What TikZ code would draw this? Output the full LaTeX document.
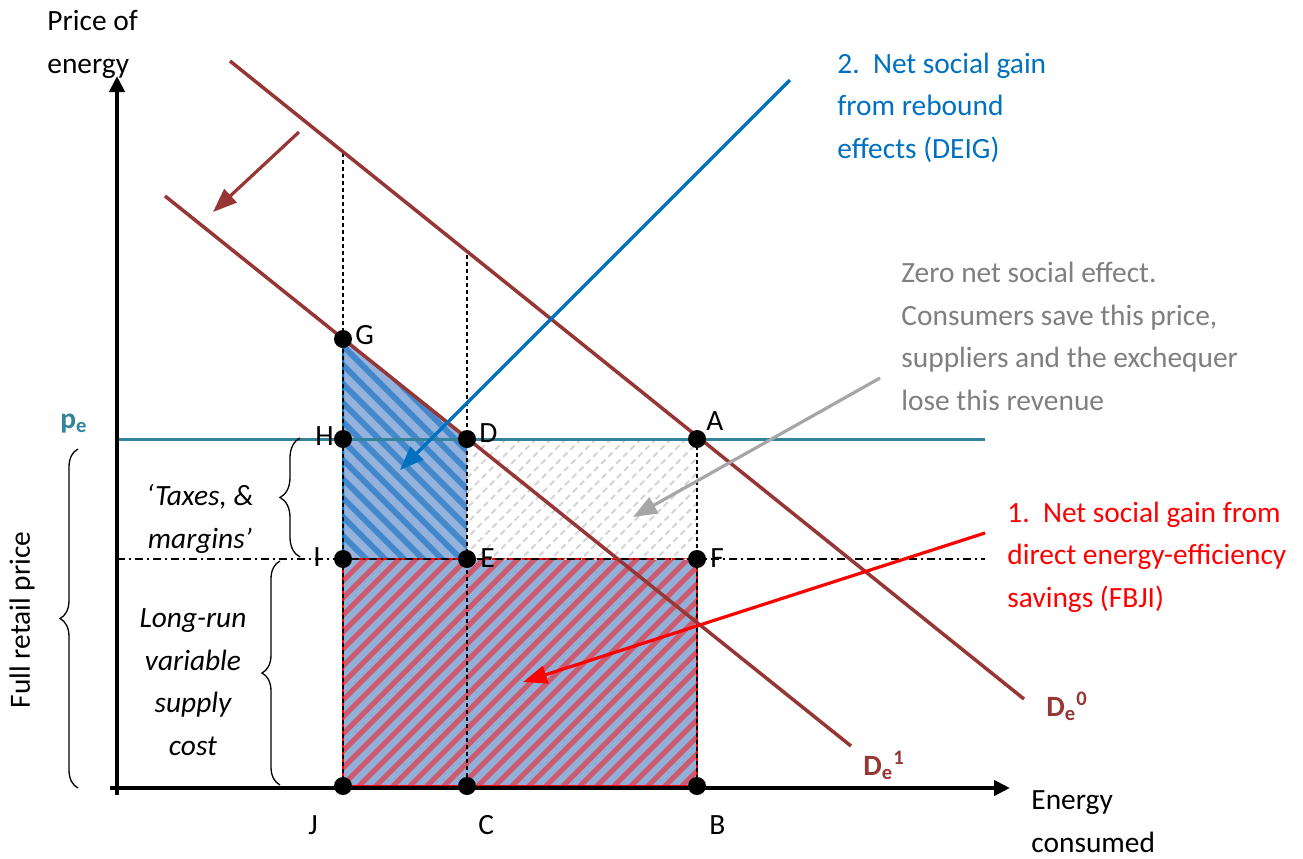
\documentclass[tikz,border=0pt]{standalone}
\usepackage{fontspec}
\setmainfont{Carlito}
\usetikzlibrary{arrows.meta,decorations.pathreplacing}
\definecolor{dred}{RGB}{150,55,53}
\definecolor{tealc}{RGB}{49,132,155}
\definecolor{oblue}{RGB}{0,112,192}
\definecolor{ored}{RGB}{255,0,0}
\definecolor{gtext}{RGB}{127,127,127}
\definecolor{garrow}{RGB}{166,166,166}
\definecolor{bluefill}{RGB}{148,178,220}
\definecolor{bluestripe}{RGB}{68,136,204}
\definecolor{redfill}{RGB}{145,175,215}
\definecolor{redstripe}{RGB}{205,90,110}
\definecolor{graystripe}{RGB}{212,212,212}
\newcommand{\mainsize}{\fontsize{14.7}{21.25}\selectfont}
\begin{document}
\begin{tikzpicture}[x=0.5pt,y=-0.5pt,
  font=\mainsize,
  dot/.style={circle,fill=black,inner sep=0pt,minimum size=9pt},
  lab/.style={anchor=base west,inner sep=0pt},
  txt/.style={anchor=base west,inner sep=0pt,align=left},
  ctxt/.style={anchor=base,inner sep=0pt,align=center,font=\mainsize\itshape},
  demand/.style={draw=dred,line width=1.75pt},
  guide/.style={draw=black,line width=0.75pt,dash pattern=on 2pt off 1.5pt},
  dashdot/.style={draw=black,line width=0.65pt,dash pattern=on 4pt off 2pt on 1pt off 2pt},
  axis/.style={draw=black,line width=2pt,-{Triangle[length=8pt,width=7.5pt]}},
  callout/.style={line width=1.6pt,-{Triangle[length=12pt,width=9pt]}},
  brc/.style={decorate,decoration={brace,amplitude=#1},line width=0.65pt}]
\useasboundingbox (0,0) rectangle (1303,858);

% geometry
\coordinate (pG) at (343,339);
\coordinate (pH) at (343,439);
\coordinate (pD) at (467,439);
\coordinate (pA) at (697,439);
\coordinate (pI) at (343,559);
\coordinate (pE) at (467,559);
\coordinate (pF) at (697,559);
\coordinate (pJ) at (343,786);
\coordinate (pC) at (467,786);
\coordinate (pB) at (697,786);
\coordinate (Jtop) at (343,153);
\coordinate (Ctop) at (467,255);

% blue area GDEI
\fill[bluefill] (pG) -- (pD) -- (pE) -- (pI) -- cycle;
\begin{scope}
  \clip (pG) -- (pD) -- (pE) -- (pI) -- cycle;
  \foreach \c in {-250,-231,...,150}
    \draw[bluestripe,line width=3pt] (\c,0) -- (\c+1000,1000);
\end{scope}
\draw[oblue,line width=1pt] (pD) -- (pG) -- (pI);

% red area IFBJ
\fill[redfill] (pI) rectangle (pB);
\begin{scope}
  \clip (pI) rectangle (pB);
  \foreach \c in {890,907,...,1500}
    \draw[redstripe,line width=2.5pt] (\c,0) -- (\c-1000,1000);
\end{scope}
\draw[ored,line width=1.2pt] (pI) rectangle (pB);

% grey area DAFE
\begin{scope}
  \clip (pD) rectangle (pF);
  \foreach \c in {900,915,...,1280}
    \draw[graystripe,line width=1pt,dash pattern=on 3pt off 2pt] (\c,0) -- (\c-1000,1000);
\end{scope}

% guide lines
\draw[guide] (Jtop) -- (pJ);
\draw[guide] (Ctop) -- (pC);
\draw[guide] (pA) -- (pB);
\coordinate (ddL) at (117,559);
\coordinate (ddR) at (985,559);
\draw[dashdot] (ddL) -- (ddR);

% price line
\coordinate (peL) at (117,439);
\coordinate (peR) at (985,439);
\draw[tealc,line width=1.5pt] (peL) -- (peR);

% demand curves
\coordinate (D0s) at (230,61);
\coordinate (D0e) at (1024,699);
\coordinate (D1s) at (165,196);
\coordinate (D1e) at (851,746);
\draw[demand] (D0s) -- (D0e);
\draw[demand] (D1s) -- (D1e);
\coordinate (sh1) at (299,132);
\coordinate (sh2) at (213,212);
\draw[dred,callout] (sh1) -- (sh2);

% axes
\coordinate (yb) at (117,795);
\coordinate (yt) at (117,76);
\coordinate (xl) at (110,788);
\coordinate (xr) at (1010,788);
\draw[axis] (yb) -- (yt);
\draw[axis] (xl) -- (xr);

% callout arrows
\coordinate (bl1) at (790,80);
\coordinate (bl2) at (400,470);
\coordinate (gr1) at (880,378);
\coordinate (gr2) at (633,517);
\coordinate (rd1) at (985,533);
\coordinate (rd2) at (523,682);
\draw[oblue,callout] (bl1) -- (bl2);
\draw[garrow,callout] (gr1) -- (gr2);
\draw[ored,callout] (rd1) -- (rd2);

% dots
\foreach \p in {G,H,D,A,I,E,F,J,C,B}
  \node[dot] (d\p) at (p\p) {};

% point labels
\node[lab] (lG) at (355,344) {G};
\node[lab] (lH) at (315,445) {H};
\node[lab] (lD) at (479,442) {D};
\node[lab] (lA) at (706,430) {A};
\node[lab] (lI) at (313,566) {I};
\node[lab] (lE) at (480,567) {E};
\node[lab] (lF) at (710,567) {F};
\node[lab] (lJ) at (308,834) {J};
\node[lab] (lC) at (478,834) {C};
\node[lab] (lB) at (709,834) {B};

% braces
\coordinate (b1a) at (78,788);
\coordinate (b1b) at (78,449);
\coordinate (b2a) at (300,557);
\coordinate (b2b) at (300,438);
\coordinate (b3a) at (280,785);
\coordinate (b3b) at (280,561);
\draw[brc=9pt] (b1a) -- (b1b);
\draw[brc=10pt] (b2a) -- (b2b);
\draw[brc=9pt] (b3a) -- (b3b);

% texts (anchor = baseline of last line)
\node[txt] (ylab) at (47,73) {Price of\\energy};
\node[txt] (xlab) at (1031,852) {Energy\\consumed};
\node[lab,text=tealc,font=\mainsize\bfseries] (pe) at (60,428) {p\textsubscript{e}};
\node[anchor=base,inner sep=0pt,rotate=90] (frp) at (30,620) {Full retail price};
\node[ctxt] (tax) at (200,548) {‘Taxes, \&\\margins’};
\node[ctxt] (lrc) at (193,755) {Long-run\\variable\\supply\\cost};
\node[lab,text=dred,font=\mainsize\bfseries] (De0) at (1046,716) {D\textsubscript{e}\textsuperscript{0}};
\node[lab,text=dred,font=\mainsize\bfseries] (De1) at (863,775) {D\textsubscript{e}\textsuperscript{1}};
\node[txt,text=oblue] (t2) at (837,158) {2.\ \ Net social gain\\from rebound\\effects (DEIG)};
\node[txt,text=gtext] (t0) at (901,410) {Zero net social effect.\\Consumers save this price,\\suppliers and the exchequer\\lose this revenue};
\node[txt,text=ored] (t1) at (1007,607) {1.\ \ Net social gain from\\direct energy-efficiency\\savings (FBJI)};
\end{tikzpicture}
\end{document}
